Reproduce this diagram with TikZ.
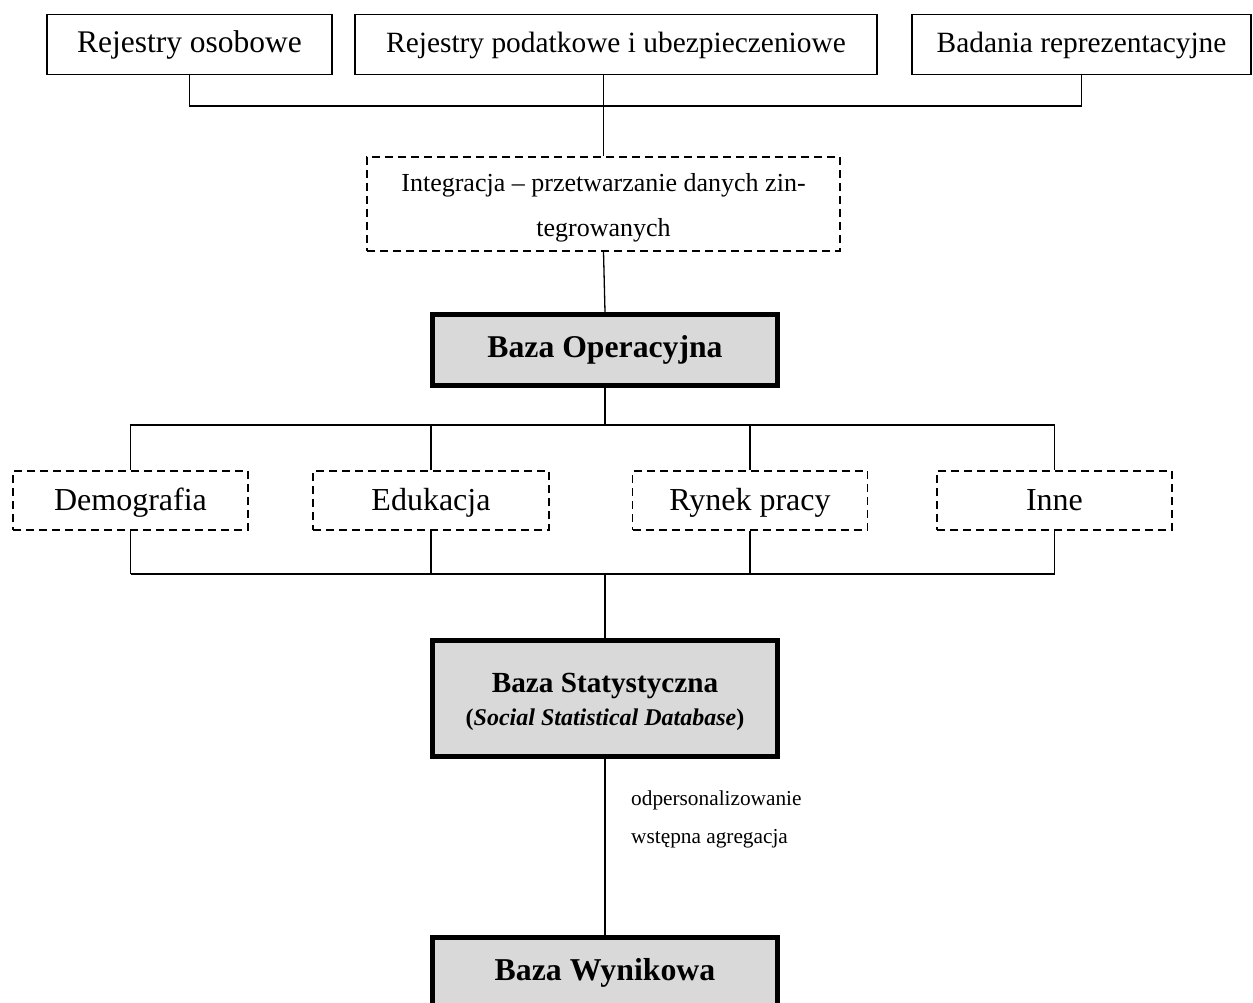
\documentclass[tikz,border=0pt]{standalone}
\usepackage{fontspec}
\setmainfont{Liberation Serif}
\begin{document}
\begin{tikzpicture}[x=1pt,y=-1pt,
  srcbox/.style={draw,line width=1.3pt,minimum height=60pt,inner sep=0pt,text height=24pt,text depth=7pt},
  dashbox/.style={draw,line width=1.4pt,dash pattern=on 8pt off 5pt,inner sep=0pt},
  areabox/.style={dashbox,minimum height=59pt,text height=25pt,text depth=6pt,
    font=\fontsize{32}{36}\selectfont},
  basebox/.style={draw,line width=5pt,fill=boxgray,inner sep=0pt,align=center},
  label/.style={inner sep=0pt,align=center},
  link/.style={line width=1.3pt},
  buslink/.style={line width=2.3pt}]
\definecolor{boxgray}{HTML}{D9D9D9}
\useasboundingbox (0,0) rectangle (1253,1003);

% source registers
\node[srcbox,minimum width=285pt,font=\fontsize{31.5}{36}\selectfont] (r1) at (189.5,44.5) {Rejestry osobowe};
\node[srcbox,minimum width=522pt,font=\fontsize{29.4}{36}\selectfont] (r2) at (616,44.5) {Rejestry podatkowe i ubezpieczeniowe};
\node[srcbox,minimum width=339pt,font=\fontsize{29.4}{36}\selectfont] (r3) at (1081.5,44.5) {Badania reprezentacyjne};

% integration step
\node[dashbox,minimum width=473pt,minimum height=94pt] (integ) at (603.5,204) {};
\node[label,font=\fontsize{26}{45}\selectfont] (integtext) at (603.5,208)
  {Integracja -- przetwarzanie danych zin-\\tegrowanych};

% operational base
\node[basebox,minimum width=345pt,minimum height=71pt,font=\fontsize{31.7}{36}\selectfont\bfseries] (bo) at (605,350)
  {Baza Operacyjna};

% thematic areas
\node[areabox,minimum width=235pt] (d1) at (130.5,500.5) {Demografia};
\node[areabox,minimum width=236pt] (d2) at (431,500.5) {Edukacja};
\node[areabox,minimum width=235pt] (d3) at (750,500.5) {Rynek pracy};
\node[areabox,minimum width=235pt] (d4) at (1054.5,500.5) {Inne};

% statistical base
\node[basebox,minimum width=345pt,minimum height=116pt] (bs) at (605,698.5) {};
\node[label,font=\fontsize{29.2}{33}\selectfont\bfseries] (bstext) at (605,702)
  {Baza Statystyczna\\
   \fontsize{24}{33}\selectfont(\textit{Social Statistical Database})};

% result base
\node[basebox,minimum width=345pt,minimum height=71pt,font=\fontsize{31.8}{36}\selectfont\bfseries] (bw) at (605,973)
  {Baza Wynikowa};

% processing notes
\node[anchor=base west,inner sep=0pt,font=\fontsize{21.3}{26}\selectfont] (n1) at (631,805) {odpersonalizowanie};
\node[anchor=base west,inner sep=0pt,font=\fontsize{21.3}{26}\selectfont] (n2) at (631,843) {wstępna agregacja};

% bus lines
\coordinate (busA) at (0,106);
\coordinate (busB) at (0,425);
\coordinate (busC) at (0,574);

\draw[link] (r1.south) |- (busA -| r3.south) -- (r3.south);
\draw[link] (integ.north |- r2.south) -- (integ.north);
\draw[link] (integ.south) -- (bo.north);

\draw[link] (bo.south) -- (bo.south |- busB);
\draw[link] (d1.north) |- (busB -| d4.north) -- (d4.north);
\draw[link] (d2.north) -- (d2.north |- busB);
\draw[link] (d3.north) -- (d3.north |- busB);

\draw[link] (d1.south) -- (d1.south |- busC);
\draw[link] (d2.south) -- (d2.south |- busC);
\draw[link] (d3.south) -- (d3.south |- busC);
\draw[link] (d4.south) -- (d4.south |- busC);
\draw[buslink] (busC -| d1.south) -- (busC -| d4.south);
\draw[link] (bs.north |- busC) -- (bs.north);

\draw[link] (bs.south) -- (bw.north);
\end{tikzpicture}
\end{document}
